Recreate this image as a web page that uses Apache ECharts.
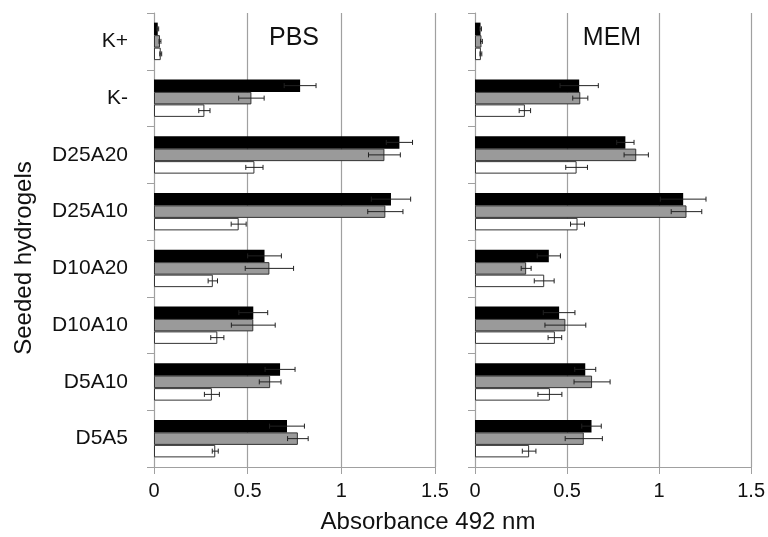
<!DOCTYPE html>
<html>
<head>
<meta charset="UTF-8">
<script src="https://cdn.jsdelivr.net/npm/echarts@6/dist/echarts.min.js"></script>
<style>
  html, body { margin: 0; padding: 0; background: #fff; }
  #main { width: 768px; height: 537px; }
</style>
</head>
<body>
<div id="main"></div>
<script type="text/javascript">
  var categories = ['K+', 'K-', 'D25A20', 'D25A10', 'D10A20', 'D10A10', 'D5A10', 'D5A5'];
  var xTicks = [0, 0.5, 1, 1.5];

  // PBS panel
  var pbsBlack    = [0.02, 0.78, 1.31, 1.265, 0.59, 0.53, 0.673, 0.71];
  var pbsBlackErr = [0.005, 0.085, 0.07, 0.105, 0.09, 0.077, 0.08, 0.093];
  var pbsGray     = [0.032, 0.52, 1.23, 1.235, 0.616, 0.53, 0.62, 0.768];
  var pbsGrayErr  = [0.005, 0.068, 0.085, 0.094, 0.129, 0.117, 0.058, 0.055];
  var pbsWhite    = [0.036, 0.269, 0.536, 0.452, 0.314, 0.338, 0.309, 0.327];
  var pbsWhiteErr = [0.005, 0.03, 0.046, 0.04, 0.025, 0.035, 0.04, 0.016];

  // MEM panel
  var memBlack    = [0.03, 0.566, 0.817, 1.131, 0.401, 0.457, 0.599, 0.633];
  var memBlackErr = [0.005, 0.104, 0.047, 0.124, 0.063, 0.086, 0.057, 0.053];
  var memGray     = [0.035, 0.572, 0.876, 1.149, 0.278, 0.491, 0.636, 0.591];
  var memGrayErr  = [0.005, 0.041, 0.066, 0.083, 0.027, 0.111, 0.098, 0.101];
  var memWhite    = [0.032, 0.271, 0.552, 0.557, 0.376, 0.434, 0.407, 0.294];
  var memWhiteErr = [0.005, 0.031, 0.059, 0.038, 0.054, 0.037, 0.065, 0.037];

  var FONT = 'Liberation Sans, Arial, sans-serif';
  var BAR_W = 12.5;
  var axisGray = '#a0a0a0';

  function errData(vals) {
    // vals: [[values, errs], ...] for black, gray, white
    var out = [];
    vals.forEach(function (pair, k) {
      pair[0].forEach(function (v, i) {
        out.push([i, v, pair[1][i], k]);
      });
    });
    return out;
  }

  function renderErr(params, api) {
    var cat = api.value(0), v = api.value(1), e = api.value(2), k = api.value(3);
    var c = api.coord([v, cat]);
    var y = c[1] + (k - 1) * BAR_W;
    var lo = api.coord([v - e, cat])[0];
    var hi = api.coord([v + e, cat])[0];
    var st = { stroke: '#222', lineWidth: 1 };
    return {
      type: 'group',
      children: [
        { type: 'line', shape: { x1: lo, y1: y, x2: hi, y2: y }, style: st },
        { type: 'line', shape: { x1: lo, y1: y - 2.5, x2: lo, y2: y + 2.5 }, style: st },
        { type: 'line', shape: { x1: hi, y1: y - 2.5, x2: hi, y2: y + 2.5 }, style: st }
      ]
    };
  }

  function xAx(idx) {
    return {
      gridIndex: idx, type: 'value', min: 0, max: 1.5, interval: 0.5,
      axisLine: { show: true, lineStyle: { color: axisGray, width: 1 } },
      axisTick: { show: true, length: 7, lineStyle: { color: axisGray } },
      axisLabel: { color: '#111', fontSize: 20, fontFamily: FONT, margin: 14 },
      splitLine: { show: true, lineStyle: { color: axisGray, width: 1.2 } }
    };
  }
  function yAx(idx, showLabels) {
    return {
      gridIndex: idx, type: 'category', data: categories, inverse: true,
      axisLine: { show: true, lineStyle: { color: axisGray, width: 1 } },
      axisTick: { show: true, length: 7, lineStyle: { color: axisGray } },
      axisLabel: { show: showLabels, color: '#111', fontSize: 21, fontFamily: FONT, margin: 26 },
      splitLine: { show: false }
    };
  }
  function bars(idx, data, fill, border) {
    return {
      type: 'bar', xAxisIndex: idx, yAxisIndex: idx, data: data,
      barWidth: BAR_W, barGap: '0%',
      itemStyle: { color: fill, borderColor: border, borderWidth: border ? 1 : 0 },
      silent: true
    };
  }

  var chart = echarts.init(document.getElementById('main'), null, { renderer: 'canvas' });
  var option = {
    animation: false,
    backgroundColor: '#fff',
    grid: [
      { left: 154, top: 13, width: 281, height: 454 },
      { left: 475, top: 13, width: 279, height: 454 }
    ],
    xAxis: [xAx(0), xAx(1)],
    yAxis: [yAx(0, true), yAx(1, false)],
    series: [
      bars(0, pbsBlack, '#000', null),
      bars(0, pbsGray, '#9a9a9a', '#333'),
      bars(0, pbsWhite, '#fff', '#333'),
      {
        type: 'custom', xAxisIndex: 0, yAxisIndex: 0, z: 5, silent: true,
        encode: { x: 1, y: 0 },
        data: errData([[pbsBlack, pbsBlackErr], [pbsGray, pbsGrayErr], [pbsWhite, pbsWhiteErr]]),
        renderItem: renderErr
      },
      bars(1, memBlack, '#000', null),
      bars(1, memGray, '#9a9a9a', '#333'),
      bars(1, memWhite, '#fff', '#333'),
      {
        type: 'custom', xAxisIndex: 1, yAxisIndex: 1, z: 5, silent: true,
        encode: { x: 1, y: 0 },
        data: errData([[memBlack, memBlackErr], [memGray, memGrayErr], [memWhite, memWhiteErr]]),
        renderItem: renderErr
      }
    ],
    graphic: [
      { type: 'text', x: 294, y: 38, style: { text: 'PBS', font: '25px ' + FONT, fill: '#111', align: 'center', verticalAlign: 'middle' } },
      { type: 'text', x: 612, y: 38, style: { text: 'MEM', font: '25px ' + FONT, fill: '#111', align: 'center', verticalAlign: 'middle' } },
      { type: 'text', x: 428, y: 522, style: { text: 'Absorbance 492 nm', font: '24px ' + FONT, fill: '#111', align: 'center', verticalAlign: 'middle' } },
      { type: 'text', x: 24, y: 258, rotation: Math.PI / 2, style: { text: 'Seeded hydrogels', font: '24px ' + FONT, fill: '#111', align: 'center', verticalAlign: 'middle' } }
    ]
  };
  chart.setOption(option);
</script>
</body>
</html>
